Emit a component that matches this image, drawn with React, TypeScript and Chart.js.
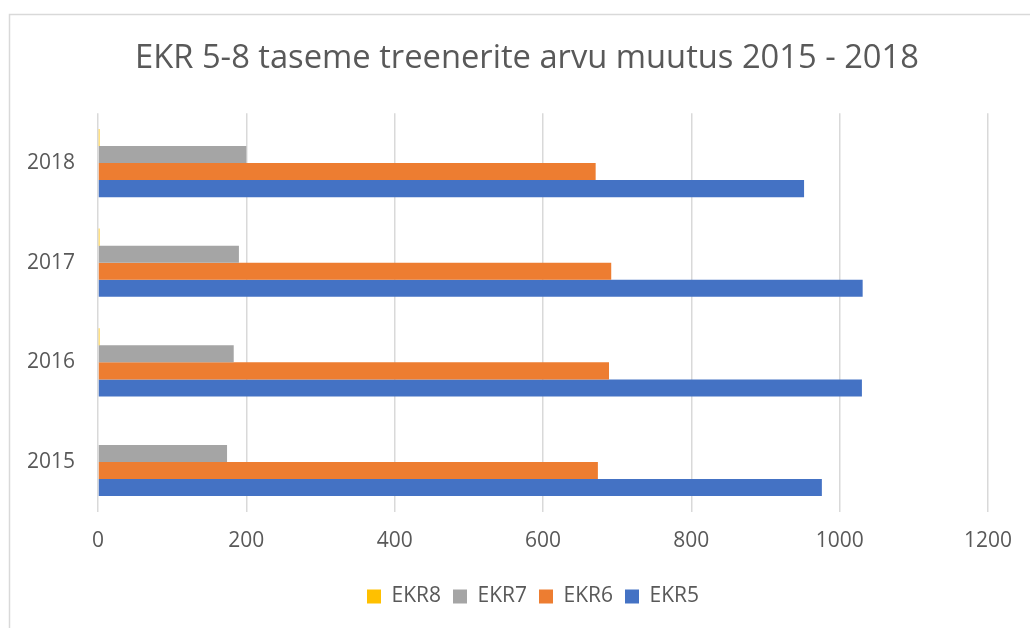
import React, { useEffect, useRef } from "react";
import { Chart, registerables } from "chart.js";

Chart.register(...registerables);

const categories = ["2018", "2017", "2016", "2015"];
const ekr8 = [2, 2, 2, 0];
const ekr7 = [200, 190, 183, 174];
const ekr6 = [671, 692, 689, 674];
const ekr5 = [952, 1031, 1030, 976];
const xTicks = [0, 200, 400, 600, 800, 1000, 1200];
const titleText = "EKR 5-8 taseme treenerite arvu muutus 2015 - 2018";

const FONT = "'Open Sans', 'Noto Sans', sans-serif";
const TEXT = "#595959";

const framePlugin = {
  id: "frame",
  afterLayout(chart: any) {
    if (chart.titleBlock) {
      chart.titleBlock.left += 23;
      chart.titleBlock.right += 23;
    }
    if (chart.legend) {
      chart.legend.left += 29;
      chart.legend.right += 29;
      chart.legend.top += 3;
      chart.legend.bottom += 3;
    }
  },
  beforeDraw(chart: any) {
    const ctx = chart.ctx;
    ctx.save();
    ctx.fillStyle = "#ffffff";
    ctx.fillRect(0, 0, chart.width, chart.height);
    ctx.strokeStyle = "#d9d9d9";
    ctx.lineWidth = 1.5;
    ctx.strokeRect(9.5, 14.5, 1200, 800);
    ctx.restore();
  },
};

export default function App() {
  const ref = useRef<HTMLCanvasElement>(null);
  useEffect(() => {
    if (!ref.current) return;
    const chart = new Chart(ref.current, {
      type: "bar",
      data: {
        labels: categories,
        datasets: [
          { label: "EKR8", data: ekr8, backgroundColor: "#FFC000" },
          { label: "EKR7", data: ekr7, backgroundColor: "#A5A5A5" },
          { label: "EKR6", data: ekr6, backgroundColor: "#ED7D31" },
          { label: "EKR5", data: ekr5, backgroundColor: "#4472C4" },
        ],
      },
      options: {
        indexAxis: "y",
        responsive: false,
        animation: false,
        datasets: {
          bar: { categoryPercentage: 0.685, barPercentage: 1.0 },
        },
        layout: { padding: { left: 20, right: 42, top: 0, bottom: 14 } },
        scales: {
          x: {
            min: 0,
            max: 1200,
            afterBuildTicks: (scale: any) => {
              scale.ticks = xTicks.map((v) => ({ value: v }));
            },
            grid: { color: "#d9d9d9", lineWidth: 1.5, drawTicks: false },
            border: { display: false },
            ticks: {
              color: TEXT,
              font: { family: FONT, size: 21 },
              padding: 17,
              maxRotation: 0,
              callback: (v: any) => String(v),
            },
          },
          y: {
            grid: { display: false, drawTicks: false },
            border: { display: false },
            afterFit: (scale: any) => {
              scale.width = 78;
            },
            ticks: {
              color: TEXT,
              font: { family: FONT, size: 21 },
              padding: 23,
            },
          },
        },
        plugins: {
          title: {
            display: true,
            text: titleText,
            color: TEXT,
            font: { family: FONT, size: 32.7, weight: "normal" },
            padding: { top: 39, bottom: 35 },
          },
          legend: {
            position: "bottom",
            labels: {
              color: TEXT,
              font: { family: FONT, size: 21 },
              boxWidth: 14,
              boxHeight: 14,
              padding: 12,
            },
          },
          tooltip: { enabled: false },
        },
      },
      plugins: [framePlugin],
    });
    return () => chart.destroy();
  }, []);
  return (
    <div style={{ position: "absolute", left: 0, top: 0, width: 1030, height: 628 }}>
      <canvas ref={ref} width={1030} height={628} />
    </div>
  );
}
